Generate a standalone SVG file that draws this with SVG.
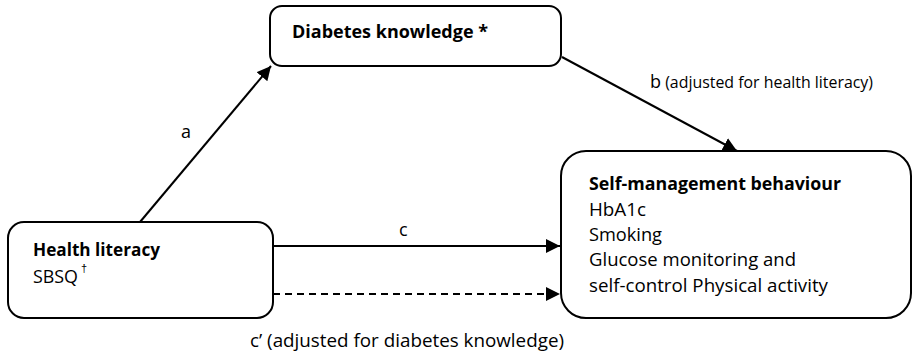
<svg xmlns="http://www.w3.org/2000/svg" width="913" height="356" viewBox="0 0 913 356">
<style>
.box{fill:#fff;stroke:#000;stroke-width:2}
.t{font-family:"Open Sans","Liberation Sans",sans-serif;font-size:18px;fill:#000}
.b{font-weight:bold;font-size:17px}
.ln{stroke:#000;stroke-width:2;fill:none}
.d{stroke-dasharray:7 5}
</style>
<defs>
<marker id="ah2" viewBox="0 0 10 10" refX="10" refY="5" markerWidth="14" markerHeight="14" markerUnits="userSpaceOnUse" orient="auto">
<path d="M0,0 L10,5 L0,10 z" fill="#000"/>
</marker>
</defs>
<g id="connectors">
<line class="ln" x1="140" y1="222" x2="271" y2="66" marker-end="url(#ah2)"/>
<line class="ln" x1="562" y1="57" x2="737" y2="151" marker-end="url(#ah2)"/>
<line class="ln" x1="273" y1="246" x2="560" y2="246" marker-end="url(#ah2)"/>
<line class="ln d" x1="273" y1="294" x2="560" y2="294" marker-end="url(#ah2)"/>
<text class="t" x="181" y="138">a</text>
<text class="t" x="650" y="88">b<tspan font-size="16" textLength="212" lengthAdjust="spacingAndGlyphs"> (adjusted for health literacy)</tspan></text>
<text class="t" x="399" y="236">c</text>
<text class="t" x="250" y="347" textLength="314" lengthAdjust="spacingAndGlyphs">c’ (adjusted for diabetes knowledge)</text>
</g>
<g id="diabetes">
<rect class="box" x="270" y="6" width="291" height="60" rx="12"/>
<text class="t b" x="292" y="38" textLength="196" lengthAdjust="spacingAndGlyphs">Diabetes knowledge *</text>
</g>
<g id="health">
<rect class="box" x="8" y="222" width="265" height="96" rx="16"/>
<text class="t b" x="33" y="256" textLength="127" lengthAdjust="spacingAndGlyphs">Health literacy</text>
<text class="t" x="33" y="283"><tspan textLength="45" lengthAdjust="spacingAndGlyphs">SBSQ</tspan><tspan x="81" y="272" font-size="11" font-family="Liberation Sans, sans-serif">†</tspan></text>
</g>
<g id="selfmgmt">
<rect class="box" x="561" y="151" width="350" height="167" rx="25"/>
<text class="t b" x="589" y="190" textLength="252" lengthAdjust="spacingAndGlyphs">Self-management behaviour</text>
<text class="t" x="589" y="216" textLength="57" lengthAdjust="spacingAndGlyphs">HbA1c</text>
<text class="t" x="589" y="241" textLength="73" lengthAdjust="spacingAndGlyphs">Smoking</text>
<text class="t" x="589" y="266" textLength="207" lengthAdjust="spacingAndGlyphs">Glucose monitoring and</text>
<text class="t" x="589" y="292" textLength="239" lengthAdjust="spacingAndGlyphs">self-control Physical activity</text>
</g>
</svg>
